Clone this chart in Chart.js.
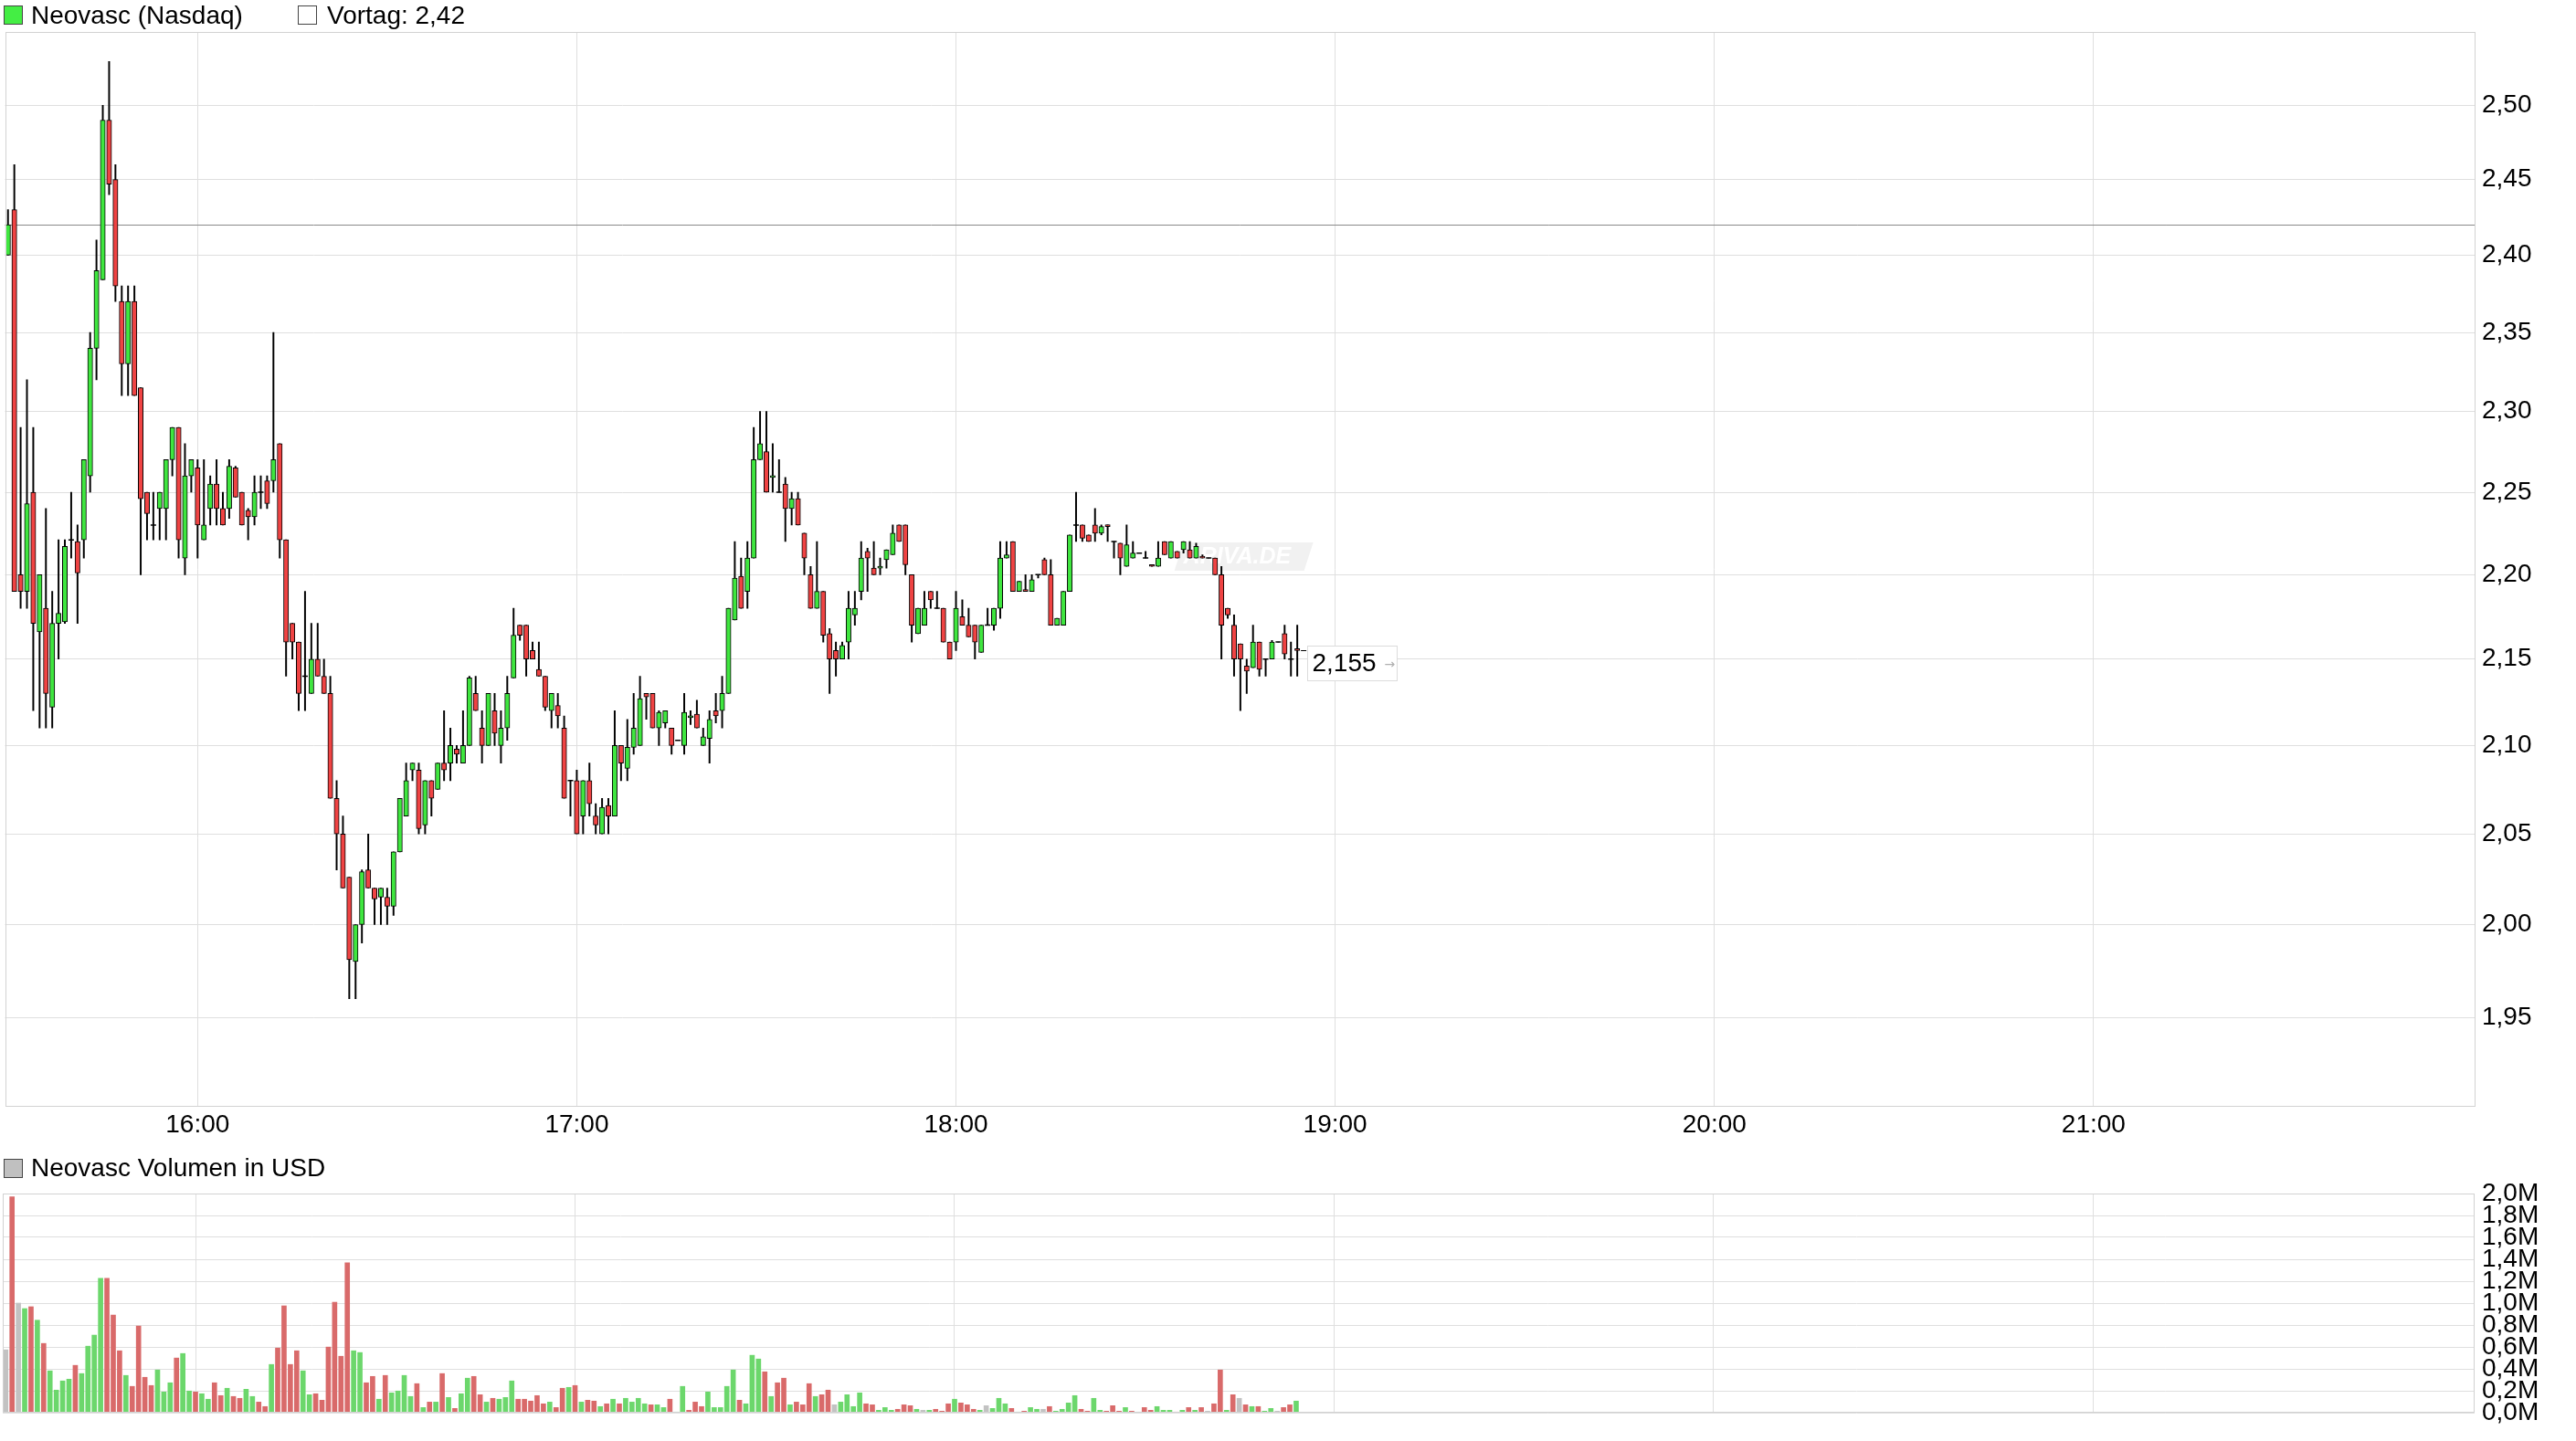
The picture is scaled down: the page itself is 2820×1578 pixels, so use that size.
<!DOCTYPE html>
<html lang="de">
<head>
<meta charset="UTF-8">
<title>Neovasc (Nasdaq)</title>
<script src="https://cdn.jsdelivr.net/npm/chart.js@4.4.1/dist/chart.umd.min.js"></script>
<style>
  body { margin: 0; background: #fff; width: 2820px; height: 1578px; overflow: hidden;
         font-family: 'Liberation Sans', Arial, sans-serif; }
  .box { position: absolute; left: 0; width: 2820px; }
  #priceBox { top: 0; height: 1260px; }
  #volBox { top: 1260px; height: 318px; }
  .legend { position: absolute; font-size: 28px; line-height: 34px; color: #000; white-space: nowrap; z-index: 2; }
  .sq { position: absolute; width: 19px; height: 19px; border: 1px solid #444; z-index: 2; }
</style>
</head>
<body>
<div class="box" id="priceBox"><canvas id="priceChart"></canvas></div>
<div class="box" id="volBox"><canvas id="volChart"></canvas></div>

<div class="sq" style="left:4px; top:6px; background:#44ee44;"></div>
<div class="legend" style="left:34px; top:0px;">Neovasc (Nasdaq)</div>
<div class="sq" style="left:326px; top:6px; background:#fff;"></div>
<div class="legend" style="left:358px; top:0px;">Vortag: 2,42</div>
<div class="sq" style="left:4px; top:1269px; background:#c0c0c0;"></div>
<div class="legend" style="left:34px; top:1262px;">Neovasc Volumen in USD</div>

<script>
// 1-Minuten-Kerzen ab 15:30
const startTime = '15:30';
const tickLabels = ['16:00', '17:00', '18:00', '19:00', '20:00', '21:00'];
const priceTicks = [1.95, 2.00, 2.05, 2.10, 2.15, 2.20, 2.25, 2.30, 2.35, 2.40, 2.45, 2.50];
const volTicks = [0, 0.2, 0.4, 0.6, 0.8, 1.0, 1.2, 1.4, 1.6, 1.8, 2.0];
const prevClose = 2.42;

const open = [
  2.40, 2.43, 2.20, 2.19, 2.25, 2.166, 2.18, 2.122, 2.171, 2.172,
  2.221, 2.22, 2.221, 2.26, 2.34, 2.384, 2.49, 2.45, 2.37, 2.33,
  2.37, 2.315, 2.25, 2.23, 2.24, 2.24, 2.27, 2.29, 2.21, 2.26,
  2.265, 2.221, 2.24, 2.255, 2.24, 2.24, 2.265, 2.25, 2.239, 2.235,
  2.25, 2.257, 2.257, 2.28, 2.221, 2.171, 2.16, 2.14, 2.13, 2.15,
  2.14, 2.13, 2.07, 2.05, 2.026, 1.98, 2.00, 2.03, 2.02, 2.015,
  2.015, 2.01, 2.04, 2.06, 2.086, 2.086, 2.055, 2.08, 2.075, 2.09,
  2.09, 2.098, 2.09, 2.10, 2.13, 2.11, 2.10, 2.12, 2.10, 2.11,
  2.139, 2.17, 2.17, 2.155, 2.144, 2.14, 2.12, 2.123, 2.11, 2.08,
  2.08, 2.06, 2.08, 2.06, 2.05, 2.066, 2.06, 2.10, 2.087, 2.099,
  2.10, 2.13, 2.13, 2.11, 2.113, 2.11, 2.103, 2.10, 2.116, 2.118,
  2.10, 2.104, 2.12, 2.12, 2.13, 2.173, 2.199, 2.19, 2.21, 2.27,
  2.275, 2.259, 2.25, 2.255, 2.24, 2.246, 2.225, 2.20, 2.18, 2.19,
  2.165, 2.155, 2.15, 2.16, 2.176, 2.19, 2.214, 2.204, 2.204, 2.209,
  2.212, 2.23, 2.23, 2.20, 2.165, 2.17, 2.19, 2.18, 2.18, 2.16,
  2.16, 2.175, 2.17, 2.17, 2.154, 2.17, 2.17, 2.18, 2.21, 2.22,
  2.19, 2.191, 2.19, 2.20, 2.209, 2.20, 2.17, 2.17, 2.19, 2.23,
  2.23, 2.224, 2.23, 2.225, 2.23, 2.22, 2.219, 2.205, 2.21, 2.213,
  2.21, 2.206, 2.205, 2.22, 2.21, 2.214, 2.215, 2.215, 2.21, 2.211,
  2.21, 2.21, 2.20, 2.18, 2.17, 2.159, 2.146, 2.145, 2.16, 2.15,
  2.15, 2.16, 2.165, 2.15, 2.156
];
const high = [
  2.43, 2.46, 2.29, 2.32, 2.29, 2.20, 2.24, 2.19, 2.221, 2.221,
  2.25, 2.23, 2.27, 2.35, 2.41, 2.50, 2.53, 2.46, 2.38, 2.38,
  2.38, 2.315, 2.25, 2.25, 2.25, 2.27, 2.29, 2.29, 2.28, 2.27,
  2.27, 2.27, 2.26, 2.27, 2.25, 2.27, 2.266, 2.25, 2.24, 2.26,
  2.26, 2.26, 2.35, 2.28, 2.221, 2.171, 2.16, 2.19, 2.171, 2.171,
  2.15, 2.14, 2.08, 2.06, 2.026, 2.00, 2.03, 2.05, 2.02, 2.02,
  2.02, 2.04, 2.07, 2.09, 2.09, 2.09, 2.08, 2.08, 2.09, 2.12,
  2.11, 2.10, 2.12, 2.14, 2.14, 2.12, 2.13, 2.13, 2.12, 2.14,
  2.18, 2.17, 2.17, 2.16, 2.16, 2.14, 2.13, 2.13, 2.117, 2.08,
  2.086, 2.08, 2.09, 2.067, 2.07, 2.07, 2.12, 2.10, 2.115, 2.13,
  2.14, 2.13, 2.13, 2.12, 2.12, 2.11, 2.103, 2.13, 2.12, 2.126,
  2.11, 2.12, 2.13, 2.14, 2.18, 2.22, 2.21, 2.22, 2.29, 2.30,
  2.30, 2.28, 2.27, 2.259, 2.25, 2.25, 2.225, 2.205, 2.22, 2.19,
  2.168, 2.16, 2.16, 2.19, 2.19, 2.22, 2.216, 2.22, 2.21, 2.215,
  2.23, 2.23, 2.23, 2.20, 2.18, 2.19, 2.19, 2.19, 2.18, 2.16,
  2.19, 2.185, 2.18, 2.17, 2.17, 2.18, 2.18, 2.22, 2.22, 2.22,
  2.196, 2.20, 2.20, 2.20, 2.21, 2.209, 2.174, 2.19, 2.224, 2.25,
  2.23, 2.224, 2.24, 2.23, 2.23, 2.22, 2.219, 2.23, 2.22, 2.213,
  2.214, 2.206, 2.22, 2.22, 2.22, 2.214, 2.22, 2.22, 2.219, 2.212,
  2.21, 2.21, 2.205, 2.18, 2.176, 2.159, 2.15, 2.17, 2.16, 2.15,
  2.161, 2.16, 2.17, 2.16, 2.17
];
const low = [
  2.40, 2.19, 2.18, 2.18, 2.12, 2.11, 2.11, 2.11, 2.15, 2.171,
  2.21, 2.171, 2.21, 2.25, 2.32, 2.384, 2.44, 2.37, 2.31, 2.31,
  2.31, 2.20, 2.221, 2.221, 2.221, 2.221, 2.26, 2.21, 2.20, 2.25,
  2.21, 2.221, 2.23, 2.23, 2.23, 2.234, 2.247, 2.23, 2.221, 2.23,
  2.24, 2.24, 2.25, 2.21, 2.14, 2.15, 2.12, 2.12, 2.13, 2.14,
  2.13, 2.07, 2.03, 2.02, 1.96, 1.96, 1.99, 2.02, 2.00, 2.00,
  2.00, 2.005, 2.04, 2.06, 2.08, 2.05, 2.05, 2.06, 2.075, 2.08,
  2.08, 2.09, 2.09, 2.10, 2.12, 2.09, 2.10, 2.10, 2.09, 2.103,
  2.139, 2.161, 2.14, 2.15, 2.14, 2.12, 2.11, 2.11, 2.07, 2.06,
  2.05, 2.05, 2.06, 2.05, 2.05, 2.05, 2.06, 2.08, 2.08, 2.095,
  2.10, 2.115, 2.11, 2.10, 2.11, 2.095, 2.103, 2.095, 2.112, 2.11,
  2.10, 2.09, 2.113, 2.11, 2.13, 2.173, 2.18, 2.18, 2.21, 2.27,
  2.25, 2.25, 2.25, 2.22, 2.23, 2.23, 2.20, 2.18, 2.18, 2.16,
  2.13, 2.14, 2.15, 2.15, 2.17, 2.185, 2.19, 2.20, 2.20, 2.204,
  2.212, 2.22, 2.20, 2.16, 2.165, 2.17, 2.18, 2.18, 2.16, 2.15,
  2.155, 2.17, 2.163, 2.15, 2.154, 2.17, 2.167, 2.174, 2.21, 2.19,
  2.19, 2.19, 2.19, 2.198, 2.20, 2.17, 2.17, 2.17, 2.19, 2.22,
  2.22, 2.22, 2.22, 2.224, 2.22, 2.21, 2.20, 2.205, 2.21, 2.213,
  2.21, 2.205, 2.205, 2.212, 2.21, 2.21, 2.213, 2.21, 2.21, 2.21,
  2.21, 2.20, 2.15, 2.174, 2.14, 2.12, 2.13, 2.145, 2.14, 2.14,
  2.15, 2.16, 2.15, 2.14, 2.14
];
const close = [
  2.42, 2.19, 2.19, 2.243, 2.171, 2.20, 2.13, 2.171, 2.177, 2.217,
  2.221, 2.201, 2.27, 2.34, 2.39, 2.49, 2.447, 2.38, 2.33, 2.37,
  2.31, 2.246, 2.237, 2.23, 2.25, 2.27, 2.29, 2.221, 2.26, 2.27,
  2.23, 2.23, 2.255, 2.24, 2.23, 2.266, 2.247, 2.23, 2.235, 2.25,
  2.25, 2.243, 2.27, 2.221, 2.16, 2.16, 2.13, 2.14, 2.15, 2.14,
  2.13, 2.07, 2.05, 2.02, 1.981, 2.00, 2.029, 2.02, 2.014, 2.02,
  2.01, 2.04, 2.07, 2.08, 2.09, 2.053, 2.08, 2.07, 2.09, 2.086,
  2.10, 2.095, 2.10, 2.139, 2.12, 2.10, 2.13, 2.107, 2.11, 2.13,
  2.164, 2.164, 2.15, 2.15, 2.14, 2.122, 2.13, 2.117, 2.07, 2.08,
  2.05, 2.08, 2.067, 2.055, 2.065, 2.06, 2.10, 2.09, 2.099, 2.11,
  2.127, 2.128, 2.11, 2.119, 2.12, 2.10, 2.103, 2.119, 2.117, 2.11,
  2.105, 2.115, 2.117, 2.13, 2.18, 2.198, 2.18, 2.21, 2.27, 2.28,
  2.25, 2.26, 2.25, 2.24, 2.246, 2.23, 2.21, 2.18, 2.19, 2.164,
  2.15, 2.15, 2.158, 2.18, 2.18, 2.21, 2.21, 2.20, 2.205, 2.215,
  2.225, 2.22, 2.206, 2.17, 2.18, 2.18, 2.185, 2.18, 2.16, 2.15,
  2.18, 2.17, 2.163, 2.16, 2.17, 2.17, 2.18, 2.21, 2.212, 2.19,
  2.196, 2.19, 2.197, 2.20, 2.20, 2.17, 2.174, 2.19, 2.224, 2.23,
  2.222, 2.22, 2.225, 2.229, 2.229, 2.22, 2.21, 2.218, 2.213, 2.213,
  2.21, 2.205, 2.21, 2.212, 2.22, 2.21, 2.22, 2.21, 2.217, 2.21,
  2.21, 2.20, 2.17, 2.176, 2.15, 2.15, 2.143, 2.16, 2.144, 2.15,
  2.16, 2.16, 2.153, 2.15, 2.155
];

// Volumen in Mio. USD, Richtung: u = steigend, d = fallend, n = neutral
const volume = [
  0.574, 1.97, 1.00, 0.95, 0.967, 0.844, 0.632, 0.382, 0.206, 0.29,
  0.306, 0.432, 0.357, 0.607, 0.708, 1.226, 1.226, 0.891, 0.565, 0.34,
  0.24, 0.791, 0.323, 0.248, 0.39, 0.189, 0.273, 0.499, 0.54, 0.198,
  0.189, 0.173, 0.123, 0.273, 0.156, 0.223, 0.148, 0.131, 0.214, 0.148,
  0.097, 0.056, 0.44, 0.59, 0.975, 0.44, 0.565, 0.382, 0.164, 0.173,
  0.114, 0.599, 1.008, 0.515, 1.368, 0.565, 0.549, 0.273, 0.331, 0.123,
  0.34, 0.181, 0.198, 0.34, 0.148, 0.265, 0.047, 0.097, 0.097, 0.357,
  0.139, 0.039, 0.173, 0.315, 0.331, 0.164, 0.097, 0.131, 0.123, 0.139,
  0.29, 0.123, 0.123, 0.106, 0.156, 0.081, 0.097, 0.047, 0.223, 0.231,
  0.248, 0.097, 0.114, 0.106, 0.056, 0.081, 0.123, 0.081, 0.131, 0.097,
  0.131, 0.081, 0.072, 0.072, 0.047, 0.123, 0.006, 0.24, 0.022, 0.097,
  0.056, 0.189, 0.047, 0.047, 0.24, 0.39, 0.114, 0.081, 0.524, 0.49,
  0.373, 0.148, 0.273, 0.315, 0.072, 0.097, 0.072, 0.265, 0.148, 0.164,
  0.206, 0.072, 0.097, 0.164, 0.056, 0.181, 0.081, 0.072, 0.022, 0.047,
  0.022, 0.031, 0.072, 0.064, 0.031, 0.022, 0.022, 0.031, 0.014, 0.081,
  0.123, 0.089, 0.072, 0.031, 0.022, 0.064, 0.039, 0.131, 0.081, 0.039,
  0.006, 0.014, 0.047, 0.031, 0.031, 0.056, 0.014, 0.031, 0.089, 0.156,
  0.031, 0.014, 0.131, 0.022, 0.014, 0.064, 0.014, 0.047, 0.014, 0.006,
  0.047, 0.022, 0.056, 0.022, 0.022, 0.006, 0.022, 0.047, 0.022, 0.047,
  0.014, 0.081, 0.39, 0.022, 0.164, 0.131, 0.072, 0.056, 0.056, 0.014,
  0.039, 0.014, 0.047, 0.072, 0.106
];
const volDir = (
  'ndnududuuu' + 'uduuuudddu' + 'dddduuuduu' + 'duuddudduu' + 'ddudddduud' +
  'ddddduuddu' + 'duuuududud' + 'uduudduduu' + 'uddddduddu' + 'duddududuu' +
  'uuduuduudd' + 'duuuuuduuu' + 'duddudddud' + 'dnuuuudduu' + 'udddunuddd' +
  'udddunuuud' + 'uduunduuuu' + 'dduudddudn' + 'dduuududud' + 'nddudndudu' +
  'unddu'
).split('');

const upColor = '#3fe63f';
const downColor = '#ef4343';
const volColors = { u: '#6cd76c', d: '#d96a6a', n: '#c2c2c2' };
const gridColor = '#dfdfdf';
const frameColor = '#d2d2d2';
const fontSpec = { family: "'Liberation Sans', Arial, sans-serif", size: 28 };

const xMin = -0.47, xMax = 390.29;
const yMin = 1.9032, yMax = 2.5505;

function minuteOf(label) {
  const [h, m] = label.split(':').map(Number);
  const [h0, m0] = startTime.split(':').map(Number);
  return (h - h0) * 60 + (m - m0);
}
const fmt = (v, d) => v.toFixed(d).replace('.', ',');

function timeAxis(showLabels) {
  return {
    type: 'linear', min: xMin, max: xMax, offset: false,
    grid: { color: gridColor, drawTicks: false, offset: false },
    border: { display: false },
    ticks: {
      display: showLabels, padding: 3, color: '#000', font: fontSpec,
      autoSkip: false, maxRotation: 0,
      callback: (v, i) => tickLabels[i]
    },
    afterBuildTicks: s => { s.ticks = tickLabels.map(t => ({ value: minuteOf(t) })); },
    afterFit: s => { s.height = showLabels ? 48 : 31; }
  };
}

const frame = {
  id: 'frame',
  afterDraw(chart) {
    const { ctx, chartArea: a } = chart;
    ctx.save();
    ctx.strokeStyle = frameColor;
    ctx.lineWidth = 1;
    ctx.strokeRect(Math.round(a.left) + 0.5, Math.round(a.top) + 0.5,
                   Math.round(a.right - a.left) - 1, Math.round(a.bottom - a.top) - 1);
    ctx.restore();
  }
};

const priceExtras = {
  id: 'priceExtras',
  beforeDatasetsDraw(chart) {
    const { ctx, chartArea: a, scales: { y } } = chart;
    const w = a.right - a.left, h = a.bottom - a.top;
    ctx.save();
    // Wasserzeichen
    const wx = a.left + w * 0.4735, wy = a.top + h * 0.475;
    ctx.fillStyle = '#f1f1f1';
    ctx.beginPath();
    ctx.moveTo(wx + 10, wy); ctx.lineTo(wx + 152, wy);
    ctx.lineTo(wx + 142, wy + 31); ctx.lineTo(wx, wy + 31);
    ctx.closePath(); ctx.fill();
    ctx.font = "italic bold 25px 'Liberation Sans', Arial, sans-serif";
    ctx.fillStyle = '#ffffff';
    ctx.textBaseline = 'middle';
    ctx.fillText('ARIVA.DE', wx + 10, wy + 16);
    // Vortag
    const yv = Math.round(y.getPixelForValue(prevClose)) + 0.5;
    ctx.strokeStyle = '#8a8a8a';
    ctx.lineWidth = 1;
    ctx.beginPath(); ctx.moveTo(a.left, yv); ctx.lineTo(a.right, yv); ctx.stroke();
    ctx.restore();
  },
  afterDatasetsDraw(chart) {
    const { ctx, scales: { x, y } } = chart;
    const i = close.length - 1;
    const px = x.getPixelForValue(i), py = Math.round(y.getPixelForValue(close[i])) + 0.5;
    ctx.save();
    ctx.strokeStyle = '#000';
    ctx.lineWidth = 1;
    ctx.beginPath(); ctx.moveTo(px + 4, py); ctx.lineTo(px + 10, py); ctx.stroke();
    const bx = Math.round(px + 11) + 0.5, by = Math.round(py - 6) + 0.5;
    ctx.fillStyle = '#fff';
    ctx.strokeStyle = '#dcdcdc';
    ctx.fillRect(bx, by, 98, 38);
    ctx.strokeRect(bx, by, 98, 38);
    ctx.fillStyle = '#000';
    ctx.font = "28px 'Liberation Sans', Arial, sans-serif";
    ctx.textBaseline = 'middle';
    ctx.fillText(fmt(close[i], 3), bx + 5, by + 20);
    ctx.fillStyle = '#b0b0b0';
    ctx.font = "14px 'DejaVu Sans', sans-serif";
    ctx.fillText('\u2192', bx + 84, by + 21);
    ctx.restore();
  }
};

const idx = close.map((_, i) => i);
const bodyIdx = idx.filter(i => open[i] !== close[i]);
const dojiIdx = idx.filter(i => open[i] === close[i]);

new Chart(document.getElementById('priceChart'), {
  type: 'bar',
  data: {
    datasets: [
      {
        data: idx.map(i => ({ x: i, y: [low[i], high[i]] })),
        backgroundColor: '#000', barThickness: 1.3, grouped: false, order: 3
      },
      {
        data: bodyIdx.map(i => ({ x: i, y: [open[i], close[i]] })),
        backgroundColor: bodyIdx.map(i => close[i] > open[i] ? upColor : downColor),
        borderColor: '#000', borderWidth: 1, borderSkipped: false,
        barThickness: 5.4, minBarLength: 2, grouped: false, order: 2
      },
      {
        type: 'line',
        data: dojiIdx.map(i => ({ x: i, y: close[i] })),
        showLine: false, pointStyle: 'line', pointRadius: 3,
        pointBorderColor: '#000', pointBorderWidth: 1.5, order: 1
      }
    ]
  },
  options: {
    animation: false, responsive: true, maintainAspectRatio: false,
    layout: { padding: { left: 3, top: 35, right: 0, bottom: 0 } },
    plugins: { legend: { display: false }, tooltip: { enabled: false } },
    scales: {
      x: timeAxis(true),
      y: {
        type: 'logarithmic', position: 'right', min: yMin, max: yMax,
        grid: { color: gridColor, drawTicks: false },
        border: { display: false },
        ticks: { padding: 8, color: '#000', font: fontSpec, autoSkip: false, callback: v => fmt(v, 2) },
        afterBuildTicks: s => { s.ticks = priceTicks.map(v => ({ value: v })); },
        afterFit: s => { s.width = 111; }
      }
    }
  },
  plugins: [priceExtras, frame]
});

new Chart(document.getElementById('volChart'), {
  type: 'bar',
  data: {
    datasets: [{
      data: volume.map((v, i) => ({ x: i, y: v })),
      backgroundColor: volDir.map(d => volColors[d]),
      barThickness: 5, grouped: false
    }]
  },
  options: {
    animation: false, responsive: true, maintainAspectRatio: false,
    layout: { padding: { left: 3, top: 47, right: 0, bottom: 0 } },
    plugins: { legend: { display: false }, tooltip: { enabled: false } },
    scales: {
      x: timeAxis(false),
      y: {
        type: 'linear', position: 'right', min: 0, max: 2.0,
        grid: { color: gridColor, drawTicks: false },
        border: { display: false },
        ticks: { padding: 8, color: '#000', font: { ...fontSpec, lineHeight: 1 }, autoSkip: false,
                 callback: v => fmt(v, 1) + 'M' },
        afterBuildTicks: s => { s.ticks = volTicks.map(v => ({ value: v })); },
        afterFit: s => { s.width = 111; }
      }
    }
  },
  plugins: [frame]
});
</script>
</body>
</html>
